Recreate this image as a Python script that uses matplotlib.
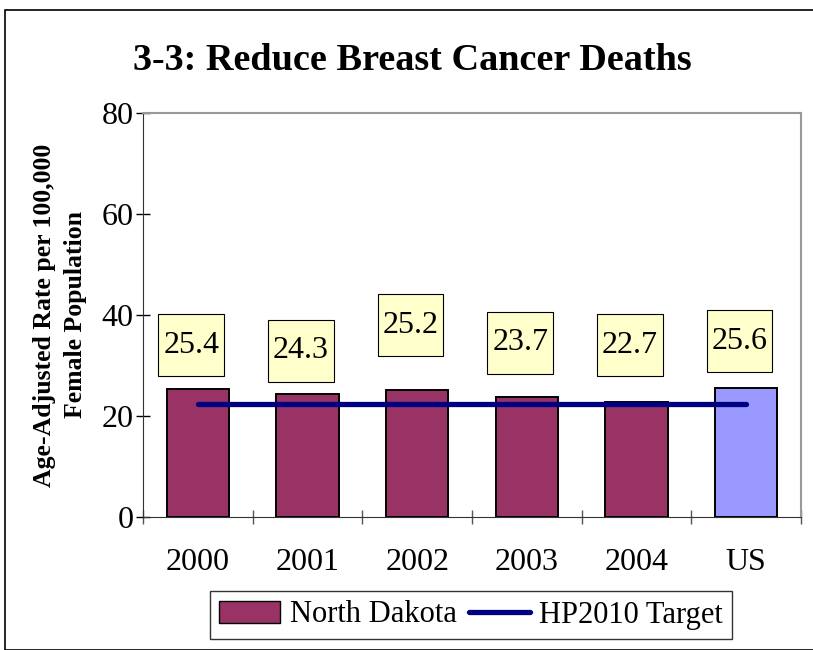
import matplotlib.pyplot as plt
from matplotlib.patches import Rectangle, Patch
from matplotlib.lines import Line2D

plt.rcParams['font.family'] = ['Liberation Serif', 'DejaVu Serif']

# data
categories = ['2000', '2001', '2002', '2003', '2004', 'US']
rates = [25.4, 24.3, 25.2, 23.7, 22.7, 25.6]
target = 22.3
# where the value boxes sit (data units)
label_y = [34.0, 32.9, 38.0, 34.5, 34.0, 34.8]

bar_colors = ['#993366'] * 5 + ['#9999FF']

fig = plt.figure(figsize=(8.13, 6.5), dpi=100)
ax = fig.add_axes([143 / 813, 1 - 517 / 650, (801 - 143) / 813, (517 - 113) / 650])

x = range(len(categories))
ax.bar(x, rates, width=0.57, color=bar_colors, edgecolor='black', linewidth=1.4, zorder=2)
ax.plot([0, len(categories) - 1], [target, target], color='#000080', linewidth=3.8,
        solid_capstyle='round', zorder=3)

box_w, box_h = 0.6, 12.3
for i, (v, ly) in enumerate(zip(rates, label_y)):
    cx = i - 0.06
    ax.add_patch(Rectangle((cx - box_w / 2, ly - box_h / 2), box_w, box_h, facecolor='#FFFFCC',
                           edgecolor='black', linewidth=0.8, zorder=4))
    ax.text(cx, ly, f'{v}', ha='center', va='center', fontsize=23, zorder=5)

ax.set_xlim(-0.5, len(categories) - 0.5)
ax.set_ylim(0, 80)
ax.set_yticks([0, 20, 40, 60, 80])
ax.tick_params(axis='y', labelsize=23, direction='inout', length=10, width=1, pad=2)
ax.set_xticks([i + 0.5 for i in range(-1, len(categories))], minor=False)
ax.set_xticklabels([])
ax.tick_params(axis='x', direction='inout', length=10, width=1, color='#555555')
ax.set_xticks(list(x), minor=True)
ax.set_xticklabels(categories, minor=True, fontsize=23)
ax.tick_params(axis='x', which='minor', length=0, pad=22)

for side in ['top', 'right']:
    ax.spines[side].set_color('#999999')
    ax.spines[side].set_linewidth(1.5)
ax.spines['left'].set_color('#333333')
ax.spines['bottom'].set_color('#333333')

ax.set_ylabel('Age-Adjusted Rate per 100,000\nFemale Population', fontsize=18.5,
              fontweight='bold', labelpad=10, linespacing=1.45)

fig.text(133 / 813, 1 - 60 / 650, '3-3: Reduce Breast Cancer Deaths', fontsize=27.5,
         fontweight='bold', ha='left', va='center')

handles = [Patch(facecolor='#993366', edgecolor='black', label='North Dakota'),
           Line2D([0], [0], color='#000080', linewidth=3.8, solid_capstyle='round', label='HP2010 Target')]
leg = fig.legend(handles=handles, loc='center', bbox_to_anchor=(471 / 813, 1 - 615 / 650), ncol=2,
                 fontsize=22, frameon=True, fancybox=False, edgecolor='black',
                 handlelength=2.0, handletextpad=0.3, columnspacing=0.4, borderpad=0.3)
leg.get_frame().set_linewidth(1)

fig.patches.append(Rectangle((5 / 813, 0), 820 / 813, 1 - 10 / 650, transform=fig.transFigure,
                             fill=False, edgecolor='black', linewidth=1.2))

fig.savefig('out.png', dpi=100)
